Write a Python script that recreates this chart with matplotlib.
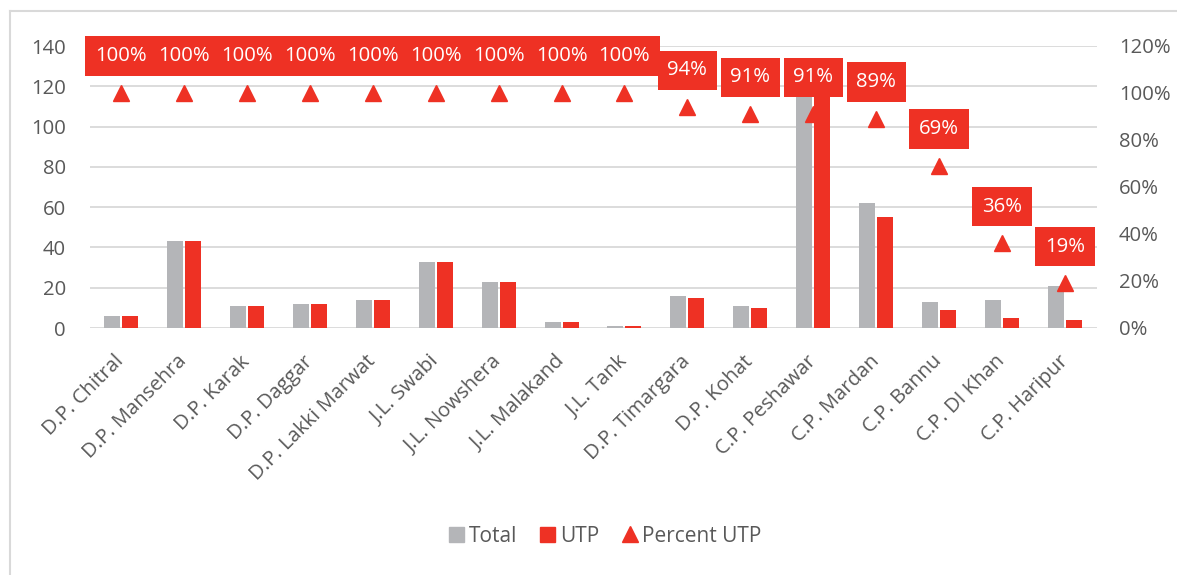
import matplotlib
matplotlib.use("Agg")
import matplotlib.pyplot as plt
import numpy as np
from matplotlib.lines import Line2D
from matplotlib.patches import Patch

categories = ["D.P. Chitral", "D.P. Mansehra", "D.P. Karak", "D.P. Daggar",
              "D.P. Lakki Marwat", "J.L. Swabi", "J.L. Nowshera", "J.L. Malakand",
              "J.L. Tank", "D.P. Timargara", "D.P. Kohat", "C.P. Peshawar",
              "C.P. Mardan", "C.P. Bannu", "C.P. DI Khan", "C.P. Haripur"]
total = [6, 43, 11, 12, 14, 33, 23, 3, 1, 16, 11, 127, 62, 13, 14, 21]
utp = [6, 43, 11, 12, 14, 33, 23, 3, 1, 15, 10, 116, 55, 9, 5, 4]
pct = [100, 100, 100, 100, 100, 100, 100, 100, 100, 94, 91, 91, 89, 69, 36, 19]

RED = "#EE3124"
GRAY = "#B4B5B8"
TXT = "#595959"
GRID = "#D9D9D9"

plt.rcParams['font.family'] = ['Open Sans', 'DejaVu Sans']

fig = plt.figure(figsize=(11.77, 5.75), dpi=100)
ax = fig.add_axes([89.5 / 1177, 1 - 328 / 575, 1007 / 1177, 282 / 575])
x = np.arange(len(categories))
w = 0.254
off = 0.143
ax.bar(x - off, total, w, color=GRAY, zorder=2)
ax.bar(x + off, utp, w, color=RED, zorder=2)
ax.set_xlim(-0.5, len(categories) - 0.5)
ax.set_ylim(0, 140)
ax.set_yticks(range(0, 141, 20))
ax.yaxis.grid(True, color=GRID, linewidth=1.3, zorder=0)
ax.set_axisbelow(True)
for s in ax.spines.values():
    s.set_visible(False)
ax.tick_params(axis='both', length=0, labelsize=14.6, colors=TXT)
ax.tick_params(axis='y', pad=17)
ax.set_xticks(x)
ax.set_xticklabels(categories, rotation=45, ha='right', va='center',
                   rotation_mode='anchor', fontsize=14.6, color=TXT)
ax.tick_params(axis='x', pad=22)

ax2 = ax.twinx()
ax2.set_ylim(0, 1.2)
ax2.set_yticks(np.arange(0, 1.21, 0.2))
ax2.set_yticklabels([f"{int(round(v*100))}%" for v in np.arange(0, 1.21, 0.2)])
for s in ax2.spines.values():
    s.set_visible(False)
ax2.tick_params(axis='y', length=0, labelsize=14.6, colors=TXT, pad=16)
pv = [p / 100 for p in pct]
ax2.plot(x, pv, linestyle='none', marker='^', markersize=11, color=RED, zorder=3)
for xi, p, v in zip(x, pct, pv):
    ax2.annotate(f"{p}%", (xi, v), xytext=(0, 26.5), textcoords='offset points',
                 ha='center', va='center', color='white', fontsize=14.6,
                 bbox=dict(boxstyle='square,pad=0.48', fc=RED, ec=RED, lw=0),
                 zorder=5)

handles = [Patch(color=GRAY), Patch(color=RED),
           Line2D([], [], linestyle='none', marker='^', color=RED, markersize=11)]
fig.legend(handles, ["Total", "UTP", "Percent UTP"], loc='center',
           bbox_to_anchor=(0.5144, 0.0678), ncol=3, frameon=False, fontsize=15,
           labelcolor=TXT, handlelength=0.7, handleheight=0.7,
           handletextpad=0.25, columnspacing=1.1)

fig.add_artist(Line2D([10/1177, 10/1177], [0, 1 - 11/575], color="#D9D9D9",
                      linewidth=1.5, transform=fig.transFigure))
fig.add_artist(Line2D([10/1177, 1], [1 - 11/575, 1 - 11/575], color="#D9D9D9",
                      linewidth=1.5, transform=fig.transFigure))

fig.savefig("out.png", dpi=100)
